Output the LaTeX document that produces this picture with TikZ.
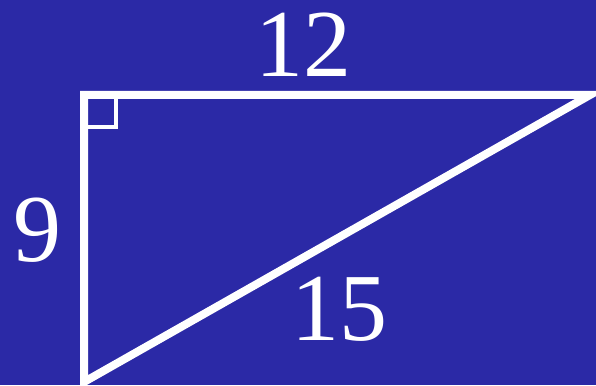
\documentclass[tikz,border=0pt]{standalone}
\usepackage{fontspec}
\setmainfont{Liberation Serif}
\usepackage{tikz}
\usetikzlibrary{positioning, calc}

\definecolor{slideblue}{RGB}{43,41,166}

\begin{document}
\begin{tikzpicture}[
    x=1pt, y=1pt,
    % sides of the triangle
    side/.style={draw=white, line width=8pt, line join=miter},
    % right-angle mark
    rightmark/.style={draw=white, line width=4pt},
    % side lengths
    sidelabel/.style={text=white, inner sep=0pt, anchor=base, font=\fontsize{96}{96}\selectfont}
]

% 1. background
\fill[slideblue] (0,0) rectangle (596,385);
\useasboundingbox (0,0) rectangle (596,385);

% 2. vertices
\coordinate (A) at (84,290);
\coordinate (B) at (590,290);
\coordinate (C) at (84,3);

% 3. triangle and right-angle mark
\draw[side] (C) -- (A) -- (B) -- cycle;
\draw[rightmark] ($(A)+(0,-32)$) -| ($(A)+(32,0)$);

% 4. labels
\node[sidelabel] (len12) at (303,308) {12};
\node[sidelabel] (len9) at (37,123) {9};
\node[sidelabel] (len15) at (339,44) {15};

\end{tikzpicture}
\end{document}
